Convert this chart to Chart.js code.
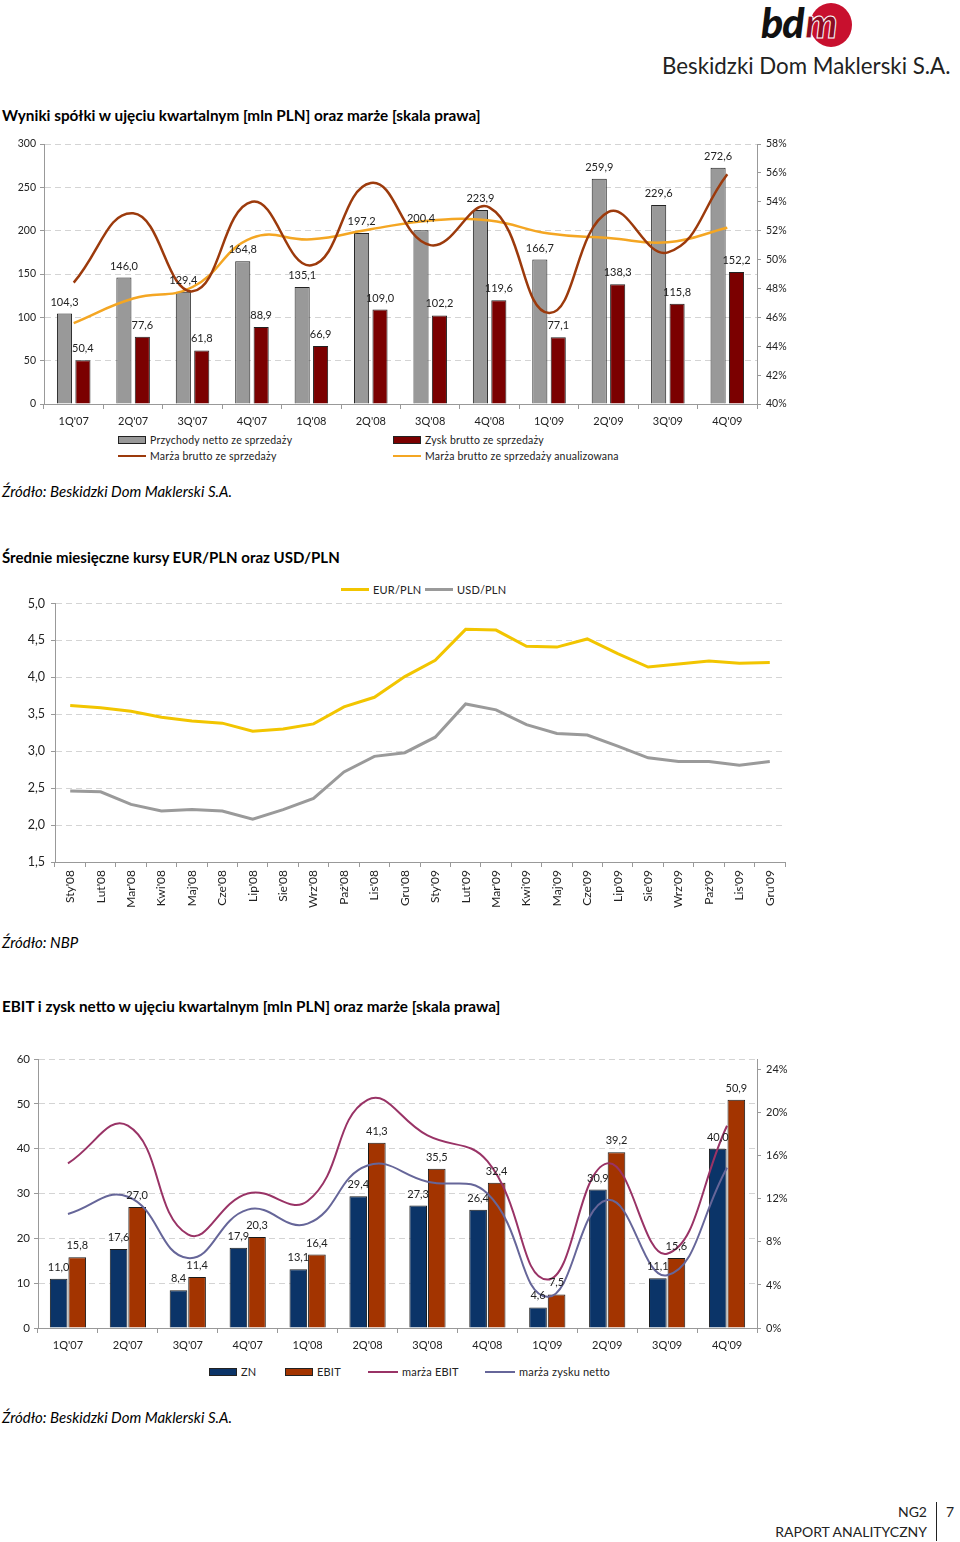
<!DOCTYPE html>
<html lang="pl">
<head>
<meta charset="UTF-8">
<title>NG2 - raport analityczny</title>
<script src="https://cdn.jsdelivr.net/npm/chart.js@4.4.1/dist/chart.umd.min.js"></script>
<style>
body{margin:0;background:#fff;font-family:Lato,sans-serif;color:#111}
#page{position:relative;width:960px;height:1542px;overflow:hidden}
.abs{position:absolute}
.title{position:absolute;left:2px;font-weight:bold;font-size:15.3px;color:#000}
.src{position:absolute;left:2px;font-style:italic;font-size:15px;color:#000}
.lg{position:absolute;font-size:10.5px;color:#222;display:flex;align-items:center;white-space:nowrap;letter-spacing:0.2px}
.lg i{display:inline-block;margin-right:4px}
.box{width:26px;height:6px;border:1px solid #222}
.ln{width:28px;height:0;border-top:2.5px solid}
canvas{position:absolute;left:0}
</style>
</head>
<body>
<div id="page">
  <!-- logo -->
  <div class="abs" style="left:810px;top:3px;width:42px;height:44px;border-radius:50%;background:#c8102e"></div>
  <div class="abs" style="left:761px;top:-2px;font:italic 900 41px Lato;color:#111;letter-spacing:-1px">bd</div>
  <div class="abs" style="left:805px;top:-2px;font:italic 900 41px Lato;color:#8a0c22;-webkit-text-stroke:1px #fff">m</div>
  <div class="abs" style="left:662px;top:52px;font-size:22.3px;color:#222">Beskidzki Dom Maklerski S.A.</div>

  <div class="title" style="top:106px">Wyniki spółki w ujęciu kwartalnym [mln PLN] oraz marże [skala prawa]</div>
  <canvas id="c1" width="800" height="300" style="top:130px"></canvas>
  <div class="lg" style="left:118px;top:434px"><i class="box" style="background:#999"></i>Przychody netto ze sprzedaży</div>
  <div class="lg" style="left:393px;top:434px"><i class="box" style="background:#7b0000"></i>Zysk brutto ze sprzedaży</div>
  <div class="lg" style="left:118px;top:450px"><i class="ln" style="border-color:#9c3a0c"></i>Marża brutto ze sprzedaży</div>
  <div class="lg" style="left:393px;top:450px"><i class="ln" style="border-color:#f4a623"></i>Marża brutto ze sprzedaży anualizowana</div>
  <div class="src" style="top:482px">Źródło: Beskidzki Dom Maklerski S.A.</div>

  <div class="title" style="top:548px;font-size:15px">Średnie miesięczne kursy EUR/PLN oraz USD/PLN</div>
  <div class="lg" style="left:341px;top:583px;font-size:11px"><i class="ln" style="border-top-width:3px;border-color:#f2c500"></i>EUR/PLN</div>
  <div class="lg" style="left:425px;top:583px;font-size:11px"><i class="ln" style="border-top-width:3px;border-color:#9a9a9a"></i>USD/PLN</div>
  <canvas id="c2" width="800" height="330" style="top:590px"></canvas>
  <div class="src" style="top:933px">Źródło: NBP</div>

  <div class="title" style="top:997px">EBIT i zysk netto w ujęciu kwartalnym [mln PLN] oraz marże [skala prawa]</div>
  <canvas id="c3" width="800" height="315" style="top:1045px"></canvas>
  <div class="lg" style="left:209px;top:1365px;font-size:11px"><i class="box" style="background:#0b3468"></i>ZN</div>
  <div class="lg" style="left:285px;top:1365px;font-size:11px"><i class="box" style="background:#a33400"></i>EBIT</div>
  <div class="lg" style="left:368px;top:1365px;font-size:11px"><i class="ln" style="width:30px;border-top-width:2px;border-color:#993366"></i>marża EBIT</div>
  <div class="lg" style="left:485px;top:1365px;font-size:11px"><i class="ln" style="width:30px;border-top-width:2px;border-color:#666699"></i>marża zysku netto</div>
  <div class="src" style="top:1408px">Źródło: Beskidzki Dom Maklerski S.A.</div>

  <!-- footer -->
  <div class="abs" style="right:33px;top:1503px;font-size:14px;color:#222">NG2</div>
  <div class="abs" style="left:936px;top:1502px;width:1px;height:39px;background:#222"></div>
  <div class="abs" style="left:946px;top:1503px;font-size:14px;color:#222">7</div>
  <div class="abs" style="right:33px;top:1523px;font-size:14px;color:#222">RAPORT ANALITYCZNY</div>
</div>

<script>
// kwartały
const quarters = ["1Q'07","2Q'07","3Q'07","4Q'07","1Q'08","2Q'08","3Q'08","4Q'08","1Q'09","2Q'09","3Q'09","4Q'09"];

// wykres 1 [mln PLN] i marże [%]
const przychody = [104.3,146.0,129.4,164.8,135.1,197.2,200.4,223.9,166.7,259.9,229.6,272.6];
const zyskBrutto = [50.4,77.6,61.8,88.9,66.9,109.0,102.2,119.6,77.1,138.3,115.8,152.2];
const marzaBrutto = [48.4,53.2,47.8,54.0,49.6,55.3,51.0,53.6,46.3,53.3,50.5,55.9];
const marzaAnual = [45.6,47.3,48.1,51.5,51.4,52.1,52.7,52.7,51.8,51.5,51.2,52.2];

// wykres 2 - kursy średnie
const months = ["Sty'08","Lut'08","Mar'08","Kwi'08","Maj'08","Cze'08","Lip'08","Sie'08","Wrz'08","Paź'08","Lis'08","Gru'08",
                "Sty'09","Lut'09","Mar'09","Kwi'09","Maj'09","Cze'09","Lip'09","Sie'09","Wrz'09","Paź'09","Lis'09","Gru'09"];
const eurPln = [3.62,3.59,3.54,3.46,3.41,3.38,3.27,3.30,3.37,3.60,3.73,4.01,4.23,4.65,4.64,4.42,4.41,4.52,4.32,4.14,4.18,4.22,4.19,4.20];
const usdPln = [2.46,2.45,2.28,2.19,2.21,2.19,2.08,2.21,2.36,2.72,2.93,2.98,3.19,3.64,3.56,3.36,3.24,3.22,3.07,2.91,2.86,2.86,2.81,2.86];

// wykres 3 [mln PLN] i marże [%]
const zn = [11.0,17.6,8.4,17.9,13.1,29.4,27.3,26.4,4.6,30.9,11.1,40.0];
const ebit = [15.8,27.0,11.4,20.3,16.4,41.3,35.5,32.4,7.5,39.2,15.6,50.9];
const marzaEbit = [15.3,18.8,8.7,12.5,11.8,21.2,17.9,15.5,4.5,15.3,6.9,18.8];
const marzaZn = [10.6,12.2,6.5,11.0,9.7,15.1,13.6,12.5,2.9,11.9,4.9,14.9];
const marzaTicks = [0,4,8,12,16,20,24];

Chart.defaults.font.family = 'Lato';
Chart.defaults.color = '#222';

const fmt = v => v.toFixed(1).replace('.', ',');

// etykiety nad słupkami
const valueLabels = {
  id: 'valueLabels',
  afterDatasetsDraw(chart) {
    const ctx = chart.ctx;
    ctx.save();
    ctx.font = '11px Lato';
    ctx.fillStyle = '#222';
    ctx.textAlign = 'center';
    ctx.textBaseline = 'bottom';
    chart.data.datasets.forEach((ds, i) => {
      if (!ds.valueLabels) return;
      chart.getDatasetMeta(i).data.forEach((bar, j) => {
        ctx.fillText(fmt(ds.data[j]), bar.x, bar.y - 6);
      });
    });
    ctx.restore();
  }
};

const gridY = {color: '#d4d4d4', tickColor: '#999', tickLength: 4};
const borderY = {color: '#999', dash: [6, 4]};
const xAxis = (h, pad, fontSize) => ({
  grid: {offset: true, drawOnChartArea: false, tickLength: 5, tickColor: '#999'},
  border: {color: '#999'},
  ticks: {padding: pad, font: {size: fontSize}, autoSkip: false},
  afterFit: s => { s.height = h; }
});

// wykres 1
new Chart(document.getElementById('c1'), {
  type: 'bar',
  data: {
    labels: quarters,
    datasets: [
      {type: 'line', label: 'Marża brutto ze sprzedaży', data: marzaBrutto, yAxisID: 'y1',
       borderColor: '#9c3a0c', borderWidth: 2.5, pointRadius: 0, tension: 0.45, order: 1},
      {type: 'line', label: 'Marża brutto ze sprzedaży anualizowana', data: marzaAnual, yAxisID: 'y1',
       borderColor: '#f4a623', borderWidth: 2.5, pointRadius: 0, tension: 0.45, order: 1},
      {label: 'Przychody netto ze sprzedaży', data: przychody, backgroundColor: '#999999',
       borderColor: '#222', borderWidth: 1, valueLabels: true, order: 2,
       categoryPercentage: 0.62, barPercentage: 0.82},
      {label: 'Zysk brutto ze sprzedaży', data: zyskBrutto, backgroundColor: '#7b0000',
       borderColor: '#222', borderWidth: 1, valueLabels: true, order: 2,
       categoryPercentage: 0.62, barPercentage: 0.82}
    ]
  },
  options: {
    responsive: false, animation: false,
    layout: {padding: {top: 14}},
    plugins: {legend: {display: false}, tooltip: {enabled: false}},
    scales: {
      x: xAxis(26, 6, 11),
      y: {min: 0, max: 300, ticks: {stepSize: 50, padding: 4, font: {size: 10.5}},
          grid: gridY, border: borderY, afterFit: s => { s.width = 44; }},
      y1: {position: 'right', min: 40, max: 58,
           ticks: {stepSize: 2, padding: 5, font: {size: 10.5}, callback: v => v + '%'},
           grid: {drawOnChartArea: false, tickColor: '#999', tickLength: 4},
           border: {color: '#999'}, afterFit: s => { s.width = 43; }}
    }
  },
  plugins: [valueLabels]
});

// wykres 2
new Chart(document.getElementById('c2'), {
  type: 'line',
  data: {
    labels: months,
    datasets: [
      {label: 'EUR/PLN', data: eurPln, borderColor: '#f2c500', borderWidth: 3, pointRadius: 0, tension: 0},
      {label: 'USD/PLN', data: usdPln, borderColor: '#9a9a9a', borderWidth: 3, pointRadius: 0, tension: 0}
    ]
  },
  options: {
    responsive: false, animation: false,
    layout: {padding: {top: 13, right: 15}},
    plugins: {legend: {display: false}, tooltip: {enabled: false}},
    scales: {
      x: Object.assign(xAxis(58, 3, 12), {offset: true, ticks: {padding: 3, font: {size: 12}, autoSkip: false, minRotation: 90, maxRotation: 90}}),
      y: {min: 1.5, max: 5, ticks: {stepSize: 0.5, padding: 6, font: {size: 12.5}, callback: v => v.toFixed(1).replace('.', ',')},
          grid: gridY, border: borderY, afterFit: s => { s.width = 55; }}
    }
  }
});

// wykres 3
new Chart(document.getElementById('c3'), {
  type: 'bar',
  data: {
    labels: quarters,
    datasets: [
      {type: 'line', label: 'marża EBIT', data: marzaEbit, yAxisID: 'y1',
       borderColor: '#993366', borderWidth: 2, pointRadius: 0, tension: 0.45, order: 1},
      {type: 'line', label: 'marża zysku netto', data: marzaZn, yAxisID: 'y1',
       borderColor: '#666699', borderWidth: 2, pointRadius: 0, tension: 0.45, order: 1},
      {label: 'ZN', data: zn, backgroundColor: '#0b3468', borderColor: '#1a1a1a', borderWidth: 1,
       valueLabels: true, order: 2, categoryPercentage: 0.62, barPercentage: 0.95},
      {label: 'EBIT', data: ebit, backgroundColor: '#a33400', borderColor: '#1a1a1a', borderWidth: 1,
       valueLabels: true, order: 2, categoryPercentage: 0.62, barPercentage: 0.95}
    ]
  },
  options: {
    responsive: false, animation: false,
    layout: {padding: {top: 14}},
    plugins: {legend: {display: false}, tooltip: {enabled: false}},
    scales: {
      x: xAxis(32, 6, 11),
      y: {min: 0, max: 60, ticks: {stepSize: 10, padding: 4, font: {size: 11.5}},
          grid: gridY, border: borderY, afterFit: s => { s.width = 38; }},
      y1: {position: 'right', min: 0, max: 25,
           ticks: {padding: 5, font: {size: 11}, callback: v => v + '%'},
           afterBuildTicks: s => { s.ticks = marzaTicks.map(v => ({value: v})); },
           grid: {drawOnChartArea: false, tickColor: '#999', tickLength: 4},
           border: {color: '#999'}, afterFit: s => { s.width = 43; }}
    }
  },
  plugins: [valueLabels]
});
</script>
</body>
</html>
